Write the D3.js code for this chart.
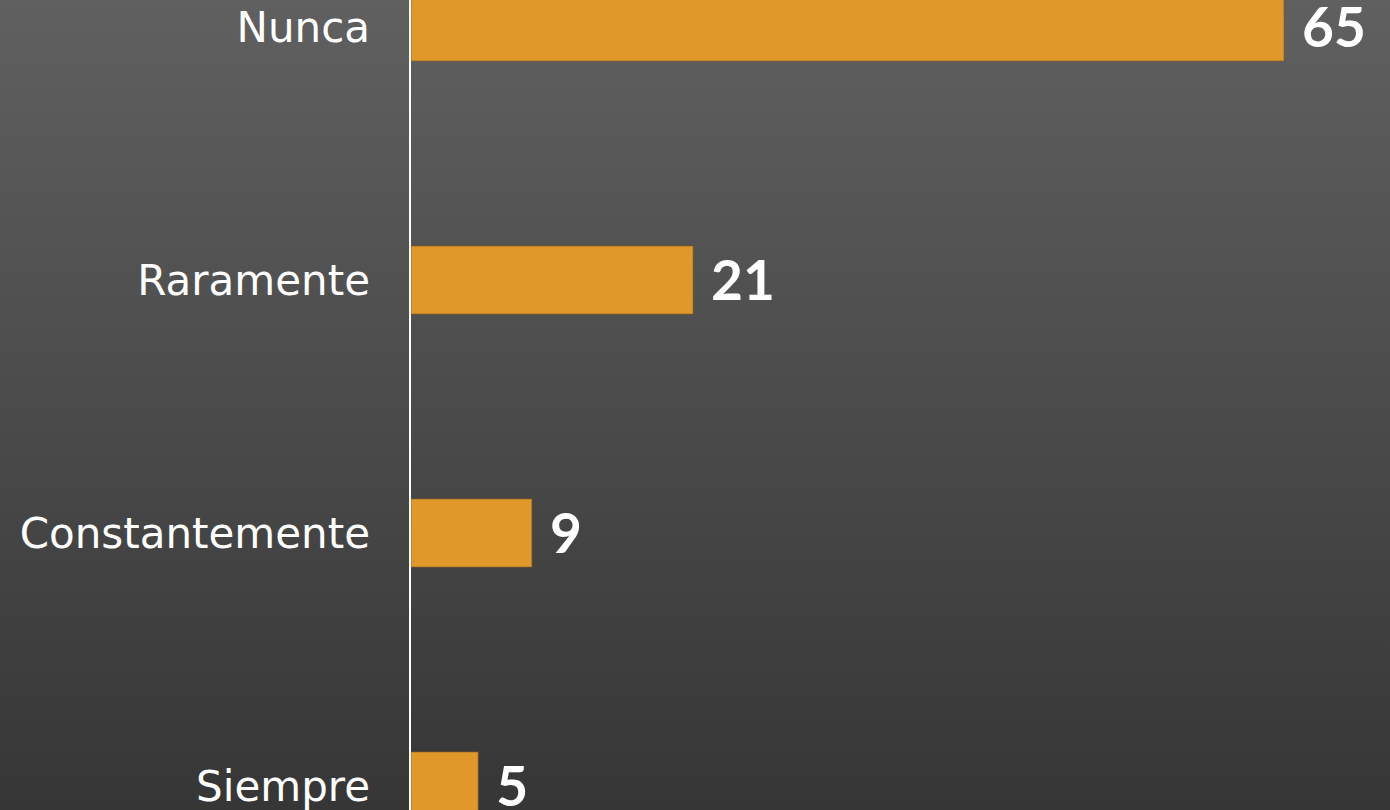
<!DOCTYPE html>
<html>
<head>
<meta charset="utf-8">
<script src="https://cdn.jsdelivr.net/npm/d3@7"></script>
<style>
  html, body { margin: 0; padding: 0; background: #4a4a4a; }
  svg { display: block; }
</style>
</head>
<body>
<svg id="chart" width="1390" height="810"></svg>
<script>
const categories = ["Nunca", "Raramente", "Constantemente", "Siempre"];
const values = [65, 21, 9, 5];

const W = 1390, H = 810;
const svg = d3.select("#chart");

const defs = svg.append("defs");
const grad = defs.append("linearGradient").attr("id", "bg")
  .attr("x1", 0).attr("y1", 0).attr("x2", 0).attr("y2", 1);
grad.append("stop").attr("offset", "0%").attr("stop-color", "#606060");
grad.append("stop").attr("offset", "100%").attr("stop-color", "#363636");
svg.append("rect").attr("width", W).attr("height", H).attr("fill", "url(#bg)");

const x = d3.scaleLinear().domain([0, 65]).range([411, 1284]);
const y = d3.scaleBand().domain(categories).range([-99.5, 912.5])
  .paddingInner(0.731).paddingOuter(0.3655);

const data = categories.map((c, i) => ({ c, v: values[i] }));

svg.append("g").selectAll("rect").data(data).join("rect")
  .attr("x", x(0))
  .attr("y", d => y(d.c))
  .attr("width", d => x(d.v) - x(0))
  .attr("height", y.bandwidth())
  .attr("fill", "#E0982A")
  .attr("stroke", "rgba(130,90,30,0.6)")
  .attr("stroke-width", 1);

// axis line
const yAxis = d3.axisLeft(y).tickSize(0).tickPadding(40);
const gy = svg.append("g").attr("transform", `translate(${x(0) - 1},0)`).call(yAxis);
gy.select(".domain").remove();
gy.append("line").attr("x1", 0).attr("x2", 0).attr("y1", 0).attr("y2", H)
  .attr("stroke", "#ffffff").attr("stroke-width", 2);
gy.selectAll(".tick text")
  .attr("fill", "#ffffff")
  .attr("font-family", "'DejaVu Sans', sans-serif")
  .attr("font-size", 42)
  .attr("dy", "0.36em");

// value labels
svg.append("g").selectAll("text").data(data).join("text")
  .attr("x", d => x(d.v) + 18)
  .attr("y", d => y(d.c) + y.bandwidth() / 2)
  .attr("dy", "0.36em")
  .attr("fill", "#ffffff")
  .attr("font-family", "Lato, sans-serif")
  .attr("font-weight", 700)
  .attr("font-size", 55)
  .text(d => d.v);
</script>
</body>
</html>
